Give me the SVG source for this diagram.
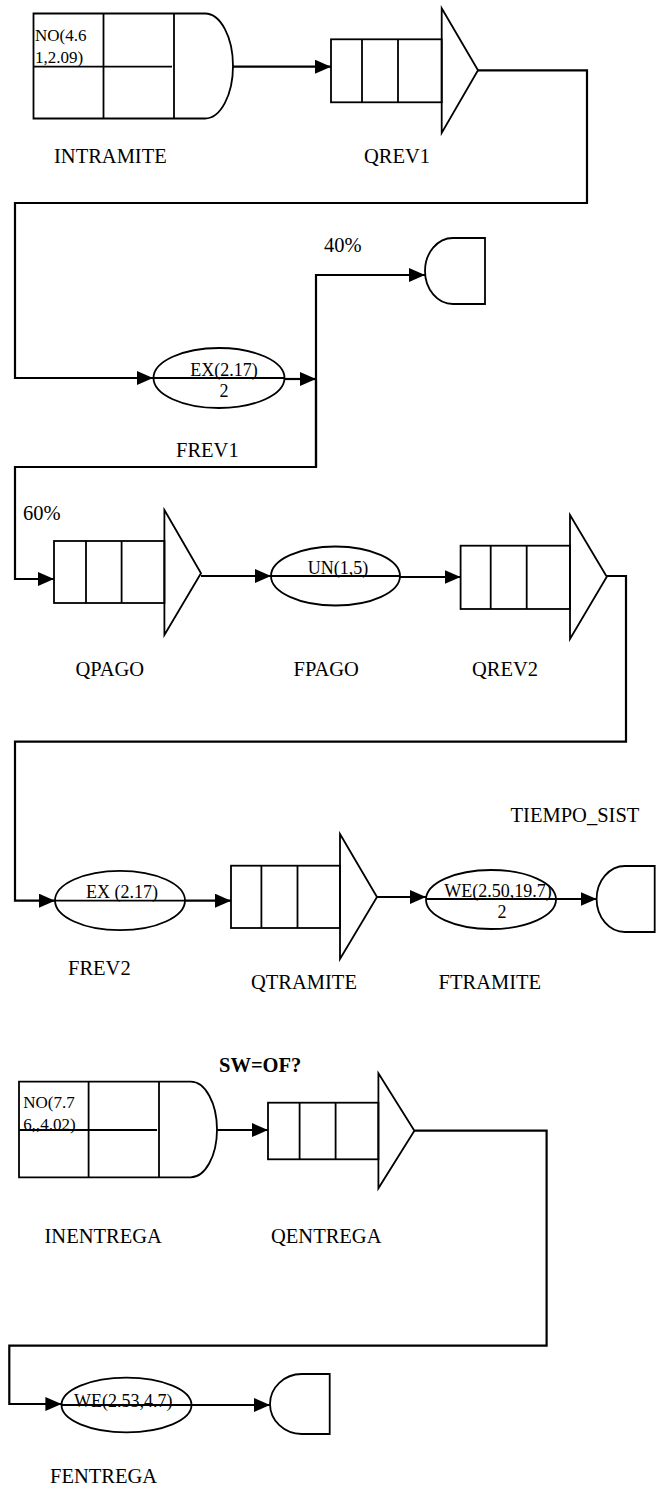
<svg xmlns="http://www.w3.org/2000/svg" width="669" height="1487" viewBox="0 0 669 1487">
<style>
.shape{fill:none;stroke:#000;stroke-width:1.8}
.fillw{fill:#fff;stroke:#000;stroke-width:1.8}
.conn{fill:none;stroke:#000;stroke-width:2.2}
.lbl{font-family:"Liberation Serif","Times New Roman",serif;font-size:20.5px;fill:#000}
.in{font-family:"Liberation Serif","Times New Roman",serif;font-size:17px;fill:#000}
.el{font-family:"Liberation Serif","Times New Roman",serif;font-size:18px;fill:#000;text-anchor:middle}
.bold{font-weight:bold}
</style>
<defs>
<marker id="ah" markerUnits="userSpaceOnUse" markerWidth="16" markerHeight="14" refX="16" refY="7" orient="auto">
<path d="M0,0 L16,7 L0,14 Z" fill="#000"/>
</marker>
</defs>
<rect width="669" height="1487" fill="#fff"/>

<g id="connectors">
<path class="conn" d="M233,66.7 H331" marker-end="url(#ah)"/>
<path class="conn" d="M478,70.3 H587 V203 H15 V378 H153" marker-end="url(#ah)"/>
<path class="conn" d="M284,379 H316" marker-end="url(#ah)"/>
<path class="conn" d="M316,467 V275 H425" marker-end="url(#ah)"/>
<path class="conn" d="M316,380 V467 H15 V579 H54" marker-end="url(#ah)"/>
<path class="conn" d="M201,576 H271" marker-end="url(#ah)"/>
<path class="conn" d="M400,577 H460.6" marker-end="url(#ah)"/>
<path class="conn" d="M606.8,576 H626 V741.7 H15 V900.7 H55" marker-end="url(#ah)"/>
<path class="conn" d="M185,900.7 H231" marker-end="url(#ah)"/>
<path class="conn" d="M377,897 H426" marker-end="url(#ah)"/>
<path class="conn" d="M556,899 H596.6" marker-end="url(#ah)"/>
<path class="conn" d="M217,1130 H268" marker-end="url(#ah)"/>
<path class="conn" d="M414.4,1130.7 H546.6 V1345.7 H9.3 V1404 H61.4" marker-end="url(#ah)"/>
<path class="conn" d="M192,1405 H270" marker-end="url(#ah)"/>
</g>

<g id="INTRAMITE">
<path class="shape" d="M33.5,13.5 H205 A28,52.5 0 0 1 205,118.5 H33.5 Z"/>
<path class="shape" d="M103.5,13.5 V118.5 M174,13.5 V118.5 M33.5,66.7 H172"/>
<text class="in" x="35" y="40.7">NO(4.6</text>
<text class="in" x="35" y="63">1,2.09)</text>
<text class="lbl" x="54" y="163">INTRAMITE</text>
</g>

<g id="QREV1">
<rect class="shape" x="331" y="39.3" width="110.7" height="63"/>
<path class="shape" d="M362,39.3 V102.3 M398,39.3 V102.3"/>
<polygon class="shape" points="441.7,8.3 478,70.3 441.7,133"/>
<text class="lbl" x="364" y="163.3">QREV1</text>
</g>

<g id="FREV1">
<ellipse class="shape" cx="219" cy="378" rx="65.5" ry="30"/>
<path class="shape" d="M153.5,378 H284.5"/>
<text class="el" x="224" y="376">EX(2.17)</text>
<text class="el" x="224" y="396.7">2</text>
<text class="lbl" x="176" y="457">FREV1</text>
</g>

<g id="SALIDA40">
<path class="shape" d="M485,238 H453 A28,33 0 0 0 453,304 H485 Z"/>
<text class="lbl" x="324" y="251.7">40%</text>
</g>

<g id="PCT60">
<text class="lbl" x="23" y="520">60%</text>
</g>

<g id="QPAGO">
<rect class="shape" x="54" y="541" width="110.4" height="62"/>
<path class="shape" d="M86,541 V603 M121.6,541 V603"/>
<polygon class="shape" points="164.4,510 201,573.3 164.4,635"/>
<text class="lbl" x="75.4" y="676">QPAGO</text>
</g>

<g id="FPAGO">
<ellipse class="shape" cx="335.5" cy="576" rx="64.5" ry="29.5"/>
<path class="shape" d="M271,576 H400"/>
<text class="el" x="338" y="574">UN(1,5)</text>
<text class="lbl" x="293.6" y="676">FPAGO</text>
</g>

<g id="QREV2">
<rect class="shape" x="460.6" y="545.7" width="109.4" height="63.3"/>
<path class="shape" d="M490.7,545.7 V609 M526.7,545.7 V609"/>
<polygon class="shape" points="570,515 606.8,576.7 570,639"/>
<text class="lbl" x="472" y="676">QREV2</text>
</g>

<g id="FREV2">
<ellipse class="shape" cx="120" cy="900.5" rx="65" ry="29.7"/>
<path class="shape" d="M55,900.7 H185"/>
<text class="el" x="122" y="898">EX (2.17)</text>
<text class="lbl" x="68" y="975">FREV2</text>
</g>

<g id="QTRAMITE">
<rect class="shape" x="231" y="865.7" width="109" height="62.3"/>
<path class="shape" d="M261.4,865.7 V928 M297.5,865.7 V928"/>
<polygon class="shape" points="340,834 377,897 340,959"/>
<text class="lbl" x="251" y="989.3">QTRAMITE</text>
</g>

<g id="FTRAMITE">
<ellipse class="shape" cx="491" cy="899.5" rx="65" ry="29.5"/>
<path class="shape" d="M426,899 H556"/>
<text class="el" x="498" y="896.7">WE(2.50,19.7)</text>
<text class="el" x="502" y="917.7">2</text>
<text class="lbl" x="438.6" y="989">FTRAMITE</text>
</g>

<g id="TIEMPO_SIST">
<path class="shape" d="M654.7,866 H625 A28.4,33 0 0 0 625,932 H654.7 Z"/>
<text class="lbl" x="510.6" y="821.7">TIEMPO_SIST</text>
</g>

<g id="SWOF">
<text class="lbl bold" x="219" y="1071.7">SW=OF?</text>
</g>

<g id="INENTREGA">
<path class="shape" d="M19,1081.7 H190.7 A26.3,47.8 0 0 1 190.7,1177.3 H19 Z"/>
<path class="shape" d="M88.6,1081.7 V1177.3 M159,1081.7 V1177.3 M19,1130 H157"/>
<text class="in" x="23.3" y="1108">NO(7.7</text>
<text class="in" x="23.3" y="1130">6,,4.02)</text>
<text class="lbl" x="44.5" y="1243">INENTREGA</text>
</g>

<g id="QENTREGA">
<rect class="shape" x="268" y="1102.7" width="110.4" height="56.6"/>
<path class="shape" d="M299.6,1102.7 V1159.3 M335.6,1102.7 V1159.3"/>
<polygon class="shape" points="378.4,1073.3 414.4,1130.7 378.4,1188.3"/>
<text class="lbl" x="271" y="1243">QENTREGA</text>
</g>

<g id="FENTREGA">
<ellipse class="shape" cx="126.5" cy="1405" rx="65" ry="27.3"/>
<path class="shape" d="M61.5,1405 H191.5"/>
<text class="in" x="74" y="1407.3" style="font-size:18px">WE(2.53,4.7)</text>
<text class="lbl" x="50" y="1483.3">FENTREGA</text>
</g>

<g id="SALIDA_FIN">
<path class="shape" d="M329.7,1374 H301.7 A31.7,30 0 0 0 301.7,1434 H329.7 Z"/>
</g>
</svg>
